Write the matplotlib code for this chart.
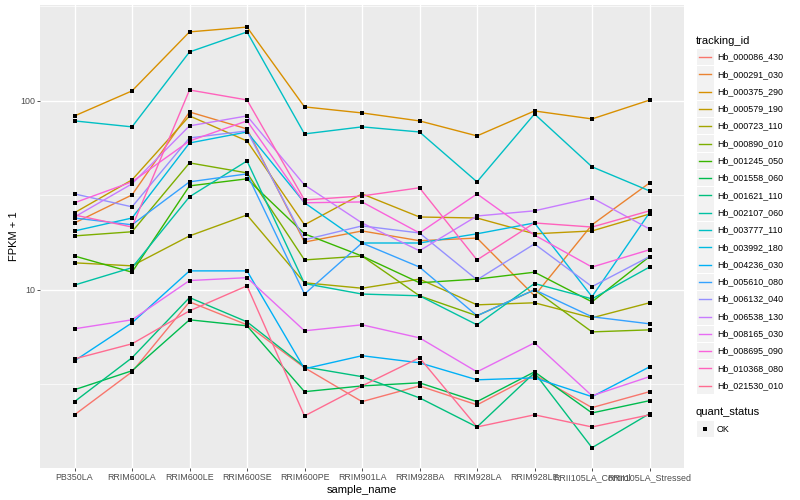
import matplotlib
matplotlib.use('Agg')
import matplotlib.pyplot as plt
import numpy as np

plt.rcParams['font.family'] = ['Liberation Sans', 'DejaVu Sans']

samples = ['PB350LA', 'RRIM600LA', 'RRIM600LE', 'RRIM600SE', 'RRIM600PE', 'RRIM901LA',
           'RRIM928BA', 'RRIM928LA', 'RRIM928LE', 'RRII105LA_Control', 'RRII105LA_Stressed']

tracking_ids = ['Hb_000086_430', 'Hb_000291_030', 'Hb_000375_290', 'Hb_000579_190',
                'Hb_000723_110', 'Hb_000890_010', 'Hb_001245_050', 'Hb_001558_060',
                'Hb_001621_110', 'Hb_002107_060', 'Hb_003777_110', 'Hb_003992_180',
                'Hb_004236_030', 'Hb_005610_080', 'Hb_006132_040', 'Hb_006538_130',
                'Hb_008165_030', 'Hb_008695_090', 'Hb_010368_080', 'Hb_021530_010']

# ggplot default hue palette for 20 levels
colors = ['#F8766D', '#EA8331', '#D89000', '#C09B00', '#A3A500', '#7CAE00', '#39B600',
          '#00BB4E', '#00BF7D', '#00C1A3', '#00BFC4', '#00BAE0', '#00B0F6', '#35A2FF',
          '#9590FF', '#C77CFF', '#E76BF3', '#FA62DB', '#FF62BC', '#FF6C91']

# FPKM + 1, one list per gene, in sample order
hb_000086_430 = [2.18, 3.68, 8.64, 6.53, 3.87, 2.56, 3.10, 2.46, 3.55, 2.38, 2.89]
hb_000291_030 = [22.6, 31.8, 87.4, 71.1, 17.9, 20.5, 18.2, 18.8, 9.3, 22.1, 36.8]
hb_000375_290 = [83.3, 113.0, 232.0, 246.0, 93.0, 86.4, 78.4, 65.3, 88.5, 80.3, 101.0]
hb_000579_190 = [25.6, 38.2, 83.3, 61.4, 22.1, 32.2, 24.3, 24.0, 19.8, 20.5, 25.2]
hb_000723_110 = [13.9, 13.4, 19.3, 24.9, 10.9, 10.2, 11.4, 8.33, 8.54, 7.11, 8.54]
hb_000890_010 = [19.3, 20.3, 47.0, 41.6, 14.4, 15.1, 9.3, 7.29, 10.0, 5.99, 6.14]
hb_001245_050 = [15.1, 12.4, 35.5, 38.7, 19.8, 15.1, 10.9, 11.4, 12.4, 8.64, 15.0]
hb_001558_060 = [2.96, 3.73, 6.94, 6.45, 2.89, 3.10, 3.22, 2.56, 3.68, 2.23, 2.59]
hb_001621_110 = [2.56, 4.37, 9.1, 6.77, 3.91, 3.47, 2.68, 1.88, 3.64, 1.46, 2.21]
hb_002107_060 = [10.6, 13.1, 31.1, 48.1, 10.8, 9.5, 9.3, 6.53, 10.8, 8.96, 13.2]
hb_003777_110 = [78.4, 72.9, 181.7, 231.8, 66.9, 72.9, 68.5, 37.3, 85.3, 44.8, 33.4]
hb_003992_180 = [20.5, 24.0, 59.9, 68.5, 28.9, 17.7, 17.7, 19.8, 22.6, 9.2, 25.6]
hb_004236_030 = [4.21, 6.69, 12.6, 12.6, 3.82, 4.48, 4.11, 3.34, 3.42, 2.72, 3.91]
hb_005610_080 = [24.0, 22.1, 37.3, 41.1, 9.5, 17.7, 13.2, 7.29, 10.0, 7.20, 6.61]
hb_006132_040 = [32.2, 27.5, 63.7, 69.4, 18.4, 21.8, 20.0, 11.3, 17.5, 10.4, 15.0]
hb_006538_130 = [24.3, 36.4, 73.8, 83.3, 35.9, 22.6, 16.1, 24.6, 26.2, 30.7, 21.0]
hb_008165_030 = [6.22, 6.94, 11.2, 11.6, 6.07, 6.53, 5.57, 3.68, 5.24, 2.75, 3.47]
hb_008695_090 = [28.9, 37.3, 61.4, 78.4, 28.9, 29.2, 20.0, 32.2, 19.5, 13.2, 16.3]
hb_010368_080 = [24.9, 21.5, 114.3, 101.2, 29.9, 31.4, 34.7, 14.4, 22.6, 21.5, 26.2]
hb_021530_010 = [4.31, 5.18, 7.74, 10.5, 2.15, 3.10, 4.37, 1.88, 2.18, 1.88, 2.18]

series = [hb_000086_430, hb_000291_030, hb_000375_290, hb_000579_190, hb_000723_110,
          hb_000890_010, hb_001245_050, hb_001558_060, hb_001621_110, hb_002107_060,
          hb_003777_110, hb_003992_180, hb_004236_030, hb_005610_080, hb_006132_040,
          hb_006538_130, hb_008165_030, hb_008695_090, hb_010368_080, hb_021530_010]

W, H = 800, 500
fig = plt.figure(figsize=(8, 5), dpi=100)
# panel in pixel terms: x 40..684, y 5..468
ax = fig.add_axes([40 / W, 1 - 468 / H, (684 - 40) / W, (468 - 5) / H])
ax.set_facecolor('#EBEBEB')
for s in ax.spines.values():
    s.set_visible(False)

x = np.arange(len(samples))
for vals, c in zip(series, colors):
    ax.plot(x, vals, color=c, lw=1.0, zorder=3)
for vals in series:
    ax.scatter(x, vals, marker='s', s=7, color='black', linewidths=0, zorder=4)

ax.set_yscale('log')
ax.set_ylim(1.14, 322)
ax.set_xlim(-0.6, len(samples) - 0.4)
ax.set_yticks([10, 100])
ax.set_yticklabels(['10', '100'])
ax.set_yticks([10 ** 0.5, 10 ** 1.5, 10 ** 2.5], minor=True)
ax.yaxis.set_minor_formatter(matplotlib.ticker.NullFormatter())
ax.set_xticks(x)
ax.set_xticklabels(samples)
ax.grid(which='major', color='white', lw=1.0, zorder=1)
ax.grid(which='minor', axis='y', color='white', lw=0.5, zorder=1)
ax.set_axisbelow(True)
ax.tick_params(which='major', length=2.0, width=0.6, color='#333333',
               labelsize=6.4, labelcolor='#4D4D4D', pad=1.6)
ax.tick_params(which='minor', length=0)
ax.set_xlabel('sample_name', fontsize=8, labelpad=2)
ax.set_ylabel('FPKM + 1', fontsize=8, labelpad=0.5)

# legends, drawn in pixel coordinates
lax = fig.add_axes([0, 0, 1, 1])
lax.set_xlim(0, W)
lax.set_ylim(H, 0)
lax.axis('off')
lax.text(696, 41, 'tracking_id', fontsize=8, va='center', ha='left')
step = 17.3
for i, (tid, c) in enumerate(zip(tracking_ids, colors)):
    yc = 57 + i * step
    lax.add_patch(plt.Rectangle((697, yc - 8.3), 16.6, 16.6, facecolor='#F2F2F2',
                                edgecolor='none'))
    lax.plot([699, 711], [yc, yc], color=c, lw=1.0)
    lax.text(717, yc, tid, fontsize=6.4, va='center', ha='left')

lax.text(696, 412, 'quant_status', fontsize=8, va='center', ha='left')
lax.add_patch(plt.Rectangle((697, 429 - 8.3), 16.6, 16.6, facecolor='#F2F2F2',
                            edgecolor='none'))
lax.scatter([705], [429], marker='s', s=7, color='black', linewidths=0)
lax.text(717, 429, 'OK', fontsize=6.4, va='center', ha='left')

fig.savefig('out.png', dpi=100)
